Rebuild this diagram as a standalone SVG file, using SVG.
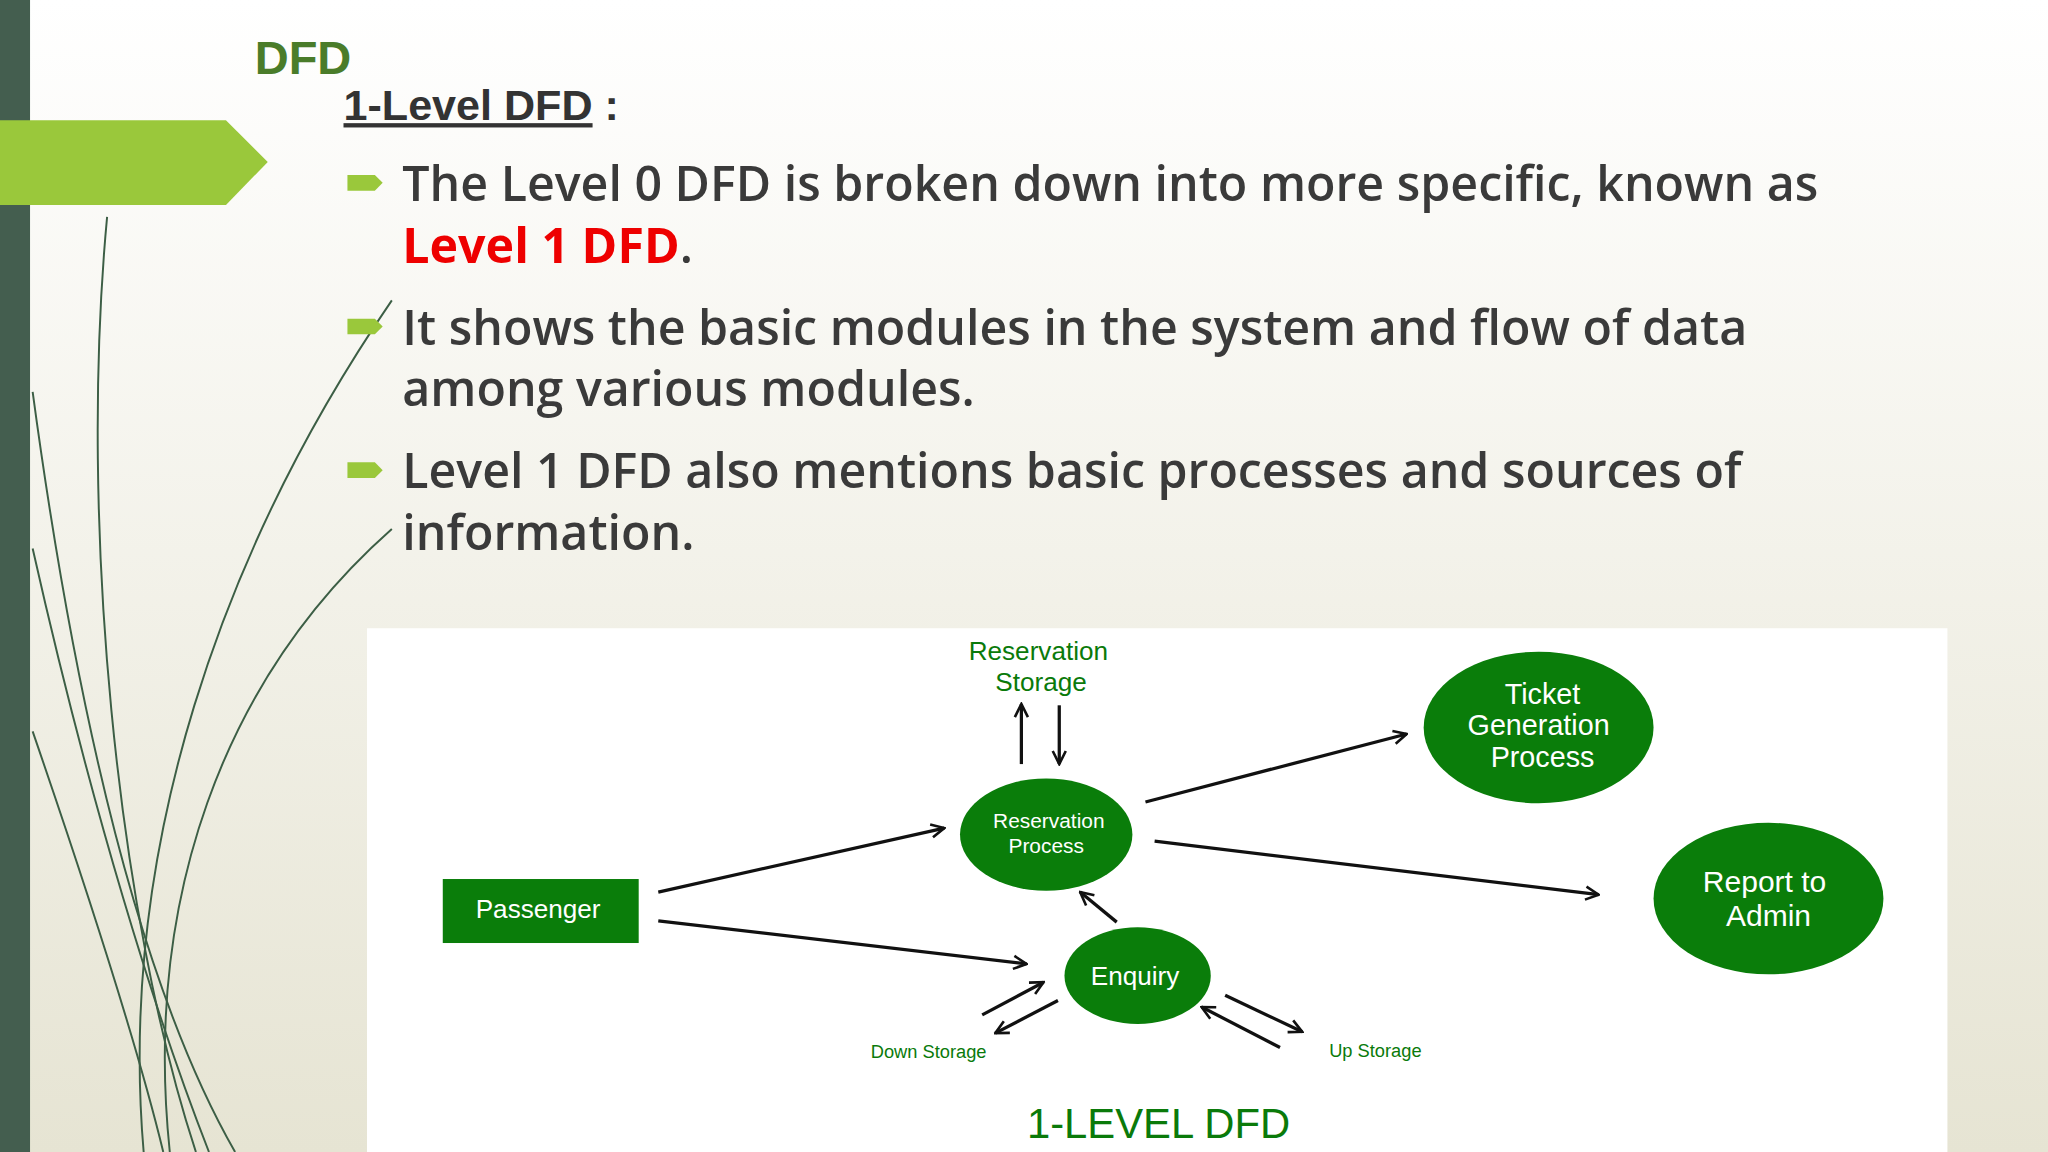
<svg xmlns="http://www.w3.org/2000/svg" width="2048" height="1152" viewBox="0 0 2048 1152">
<defs>
<linearGradient id="bg" x1="0" y1="0" x2="0" y2="1"><stop offset="0" stop-color="#ffffff"/><stop offset="1" stop-color="#e6e4d3"/></linearGradient>
<marker id="ah" viewBox="0 0 10 10" refX="9" refY="5" markerWidth="5" markerHeight="5" orient="auto"><path d="M1,1 L9,5 L1,9" fill="none" stroke="#111" stroke-width="1.6"/></marker>
<style>
.b{font-family:"Open Sans","Liberation Sans",sans-serif;font-weight:600;font-size:37px;fill:#3a3a3a}
.n{font-family:"Liberation Sans",sans-serif;fill:#fff;text-anchor:middle}
.g{font-family:"Liberation Sans",sans-serif;fill:#0a7a0a;text-anchor:middle}
.c{stroke:#111;stroke-width:2.5;fill:none;marker-end:url(#ah)}
.node{fill:#0a7d0a}
.deco{fill:none;stroke:#3c5e45;stroke-width:1.5}
</style>
</defs>
<g transform="scale(1.30612)">
<rect width="1568" height="882" fill="url(#bg)"/>
<g id="decor">
<path class="deco" d="M82,166 C60,400 90,700 150,882"/>
<path class="deco" d="M25,300 C60,560 110,760 180,882" stroke-width="3"/>
<path class="deco" d="M25,420 C70,620 120,780 160,882" stroke="#b8bba8" stroke-width="6"/>
<path class="deco" d="M300,405 C170,520 110,690 130,882" stroke-width="2"/>
<path class="deco" d="M300,230 C170,420 90,650 110,882" stroke="#c9cbb9" stroke-width="1"/>
<path class="deco" d="M25,560 C80,720 110,820 125,882" stroke-width="2"/>
</g>
<rect x="0" y="0" width="23" height="882" fill="#445e4f"/>
<polygon points="0,92 173,92 205,124 173,157 0,157" fill="#9ac83b"/>
<text x="195" y="57" font-family="Liberation Sans,sans-serif" font-weight="bold" font-size="36" fill="#4a7c2a">DFD</text>
<text x="263" y="92" font-family="Liberation Sans,sans-serif" font-weight="bold" font-size="33" fill="#333"><tspan text-decoration="underline">1-Level DFD</tspan> :</text>
<g fill="#9ac83b">
<polygon points="266,134 287,134 293,140 287,146 266,146"/>
<polygon points="266,244 287,244 293,250 287,256 266,256"/>
<polygon points="266,354 287,354 293,360 287,366 266,366"/>
</g>
<text class="b" x="308" y="154">The Level 0 DFD is broken down into more specific, known as</text>
<text class="b" x="308" y="201"><tspan fill="#ee0000" font-weight="bold">Level 1 DFD</tspan>.</text>
<text class="b" x="308" y="264">It shows the basic modules in the system and flow of  data</text>
<text class="b" x="308" y="311">among various modules.</text>
<text class="b" x="308" y="374">Level 1 DFD also mentions basic processes and sources of</text>
<text class="b" x="308" y="421">information.</text>
<rect x="281" y="481" width="1210" height="401" fill="#fff"/>
<g id="passenger"><rect class="node" x="339" y="673" width="150" height="49"/><text class="n" x="412" y="703" font-size="20">Passenger</text></g>
<g id="resproc"><ellipse class="node" cx="801" cy="639" rx="66" ry="43"/><text class="n" x="803" y="634" font-size="16">Reservation</text><text class="n" x="801" y="653" font-size="16">Process</text></g>
<g id="ticket"><ellipse class="node" cx="1178" cy="557" rx="88" ry="58"/><text class="n" x="1181" y="539" font-size="22">Ticket</text><text class="n" x="1178" y="563" font-size="22">Generation</text><text class="n" x="1181" y="587" font-size="22">Process</text></g>
<g id="report"><ellipse class="node" cx="1354" cy="688" rx="88" ry="58"/><text class="n" x="1351" y="683" font-size="23">Report to</text><text class="n" x="1354" y="709" font-size="23">Admin</text></g>
<g id="enquiry"><ellipse class="node" cx="871" cy="747" rx="56" ry="37"/><text class="n" x="869" y="754" font-size="20">Enquiry</text></g>
<g id="labels">
<text class="g" x="795" y="505" font-size="20">Reservation</text>
<text class="g" x="797" y="529" font-size="20">Storage</text>
<text class="g" x="711" y="810" font-size="14">Down Storage</text>
<text class="g" x="1053" y="809" font-size="14">Up Storage</text>
<text class="g" x="887" y="871" font-size="32">1-LEVEL DFD</text>
</g>
<g id="connectors">
<line class="c" x1="504" y1="683" x2="723" y2="634"/>
<line class="c" x1="504" y1="705" x2="786" y2="738"/>
<line class="c" x1="877" y1="614" x2="1077" y2="562"/>
<line class="c" x1="884" y1="644" x2="1224" y2="685"/>
<line class="c" x1="855" y1="706" x2="827" y2="683"/>
<line class="c" x1="782" y1="585" x2="782" y2="539"/>
<line class="c" x1="811" y1="540" x2="811" y2="585"/>
<line class="c" x1="752" y1="777" x2="799" y2="752"/>
<line class="c" x1="810" y1="766" x2="762" y2="791"/>
<line class="c" x1="938" y1="762" x2="997" y2="790"/>
<line class="c" x1="980" y1="802" x2="920" y2="771"/>
</g>
</g>
</svg>
